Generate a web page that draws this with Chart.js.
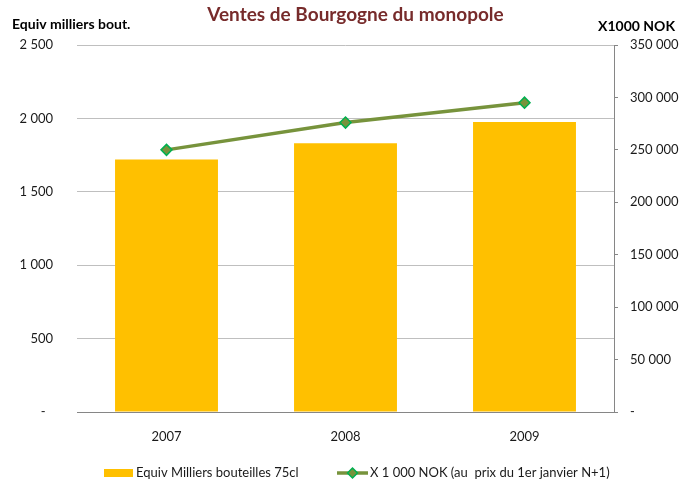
<!DOCTYPE html>
<html><head><meta charset="utf-8">
<script src="https://cdn.jsdelivr.net/npm/chart.js@4.4.0/dist/chart.umd.min.js"></script>
<style>html,body{margin:0;padding:0;background:#fff;}canvas{display:block;}</style>
</head><body>
<canvas id="c" width="692" height="483"></canvas>
<script>
const categories = ['2007', '2008', '2009'];
const bottles = [1720, 1830, 1975];
const nok = [250000, 276000, 295000];
const leftTickLabels = ['-', '500', '1 000', '1 500', '2 000', '2 500'];
const rightTickLabels = ['-', '50 000', '100 000', '150 000', '200 000', '250 000', '300 000', '350 000'];
const seriesNames = ['Equiv Milliers bouteilles 75cl', 'X 1 000 NOK (au  prix du 1er janvier N+1)'];
const chartTitle = 'Ventes de Bourgogne du monopole';
const leftAxisTitle = 'Equiv milliers bout.';
const rightAxisTitle = 'X1000 NOK';

const BAR = '#FFC000', LINE = '#77933C', MARK = '#00B050';
Chart.defaults.font.family = 'Lato, "Open Sans", sans-serif';
Chart.defaults.font.size = 13;
Chart.defaults.color = '#1a1a1a';

const decor = {
  id: 'decor',
  afterDraw(chart) {
    const ctx = chart.ctx;
    ctx.save();
    ctx.textBaseline = 'alphabetic';
    ctx.font = 'bold 19px Lato';
    ctx.fillStyle = '#772B2B';
    ctx.textAlign = 'center';
    ctx.fillText(chartTitle, 355.5, 21);
    ctx.font = 'bold 14px Lato';
    ctx.fillStyle = '#000';
    ctx.textAlign = 'left';
    ctx.fillText(leftAxisTitle, 12, 29);
    ctx.textAlign = 'right';
    ctx.fillText(rightAxisTitle, 675, 31);
    // legend
    const ly = 473;
    ctx.font = '13px Lato';
    ctx.textBaseline = 'middle';
    ctx.textAlign = 'left';
    ctx.fillStyle = chart.data.datasets[1].backgroundColor;
    ctx.fillRect(104, ly - 4, 29, 8);
    ctx.fillStyle = '#1a1a1a';
    ctx.fillText(chart.data.datasets[1].label, 136, ly);
    const ds = chart.data.datasets[0];
    ctx.strokeStyle = ds.borderColor;
    ctx.lineWidth = 3.5;
    ctx.beginPath(); ctx.moveTo(337, ly); ctx.lineTo(368, ly); ctx.stroke();
    ctx.fillStyle = ds.pointBackgroundColor;
    ctx.strokeStyle = ds.pointBorderColor;
    ctx.lineWidth = 1.5;
    Chart.helpers.drawPoint(ctx, {pointStyle: 'rectRot', radius: 5, borderWidth: 1.5, rotation: 0}, 352.5, ly);
    ctx.fillStyle = '#1a1a1a';
    ctx.fillText(ds.label, 370, ly);
    ctx.restore();
  }
};

new Chart(document.getElementById('c'), {
  data: {
    labels: categories,
    datasets: [
      {
        type: 'line', label: seriesNames[1], data: nok, yAxisID: 'y1', order: 0,
        borderColor: LINE, borderWidth: 3.5, tension: 0,
        pointStyle: 'rectRot', pointRadius: 5.5, pointBorderWidth: 1.5,
        pointBackgroundColor: LINE, pointBorderColor: MARK
      },
      {
        type: 'bar', label: seriesNames[0], data: bottles, yAxisID: 'y', order: 1,
        backgroundColor: BAR, categoryPercentage: 1, barPercentage: 0.575
      }
    ]
  },
  options: {
    responsive: false,
    animation: false,
    layout: {padding: {top: 45, bottom: 21, left: 0, right: 0}},
    plugins: {legend: {display: false}, tooltip: {enabled: false}},
    scales: {
      x: {
        grid: {display: true, drawOnChartArea: false, drawTicks: false},
        border: {display: true, color: '#868686', width: 1},
        ticks: {padding: 17, color: '#1a1a1a', font: {size: 13}},
        afterFit(s) { s.height = 50; }
      },
      y: {
        position: 'left', min: 0, max: 2500,
        grid: {color: (c) => c.tick && c.tick.value === 0 ? 'rgba(0,0,0,0)' : '#BFBFBF', lineWidth: 1, drawTicks: false},
        border: {display: false},
        ticks: {stepSize: 500, padding: 24, color: '#1a1a1a',
          callback: (v, i) => leftTickLabels[i] === '-' ? '-\u2007' : leftTickLabels[i]},
        afterFit(s) { s.width = 77; }
      },
      y1: {
        position: 'right', min: 0, max: 350000,
        grid: {drawOnChartArea: false, drawTicks: true, tickLength: 4, color: '#868686'},
        border: {display: true, color: '#868686', width: 1},
        ticks: {stepSize: 50000, padding: 12, color: '#1a1a1a',
          callback: (v, i) => rightTickLabels[i]},
        afterFit(s) { s.width = 78; }
      }
    }
  },
  plugins: [decor]
});
</script>
</body></html>
